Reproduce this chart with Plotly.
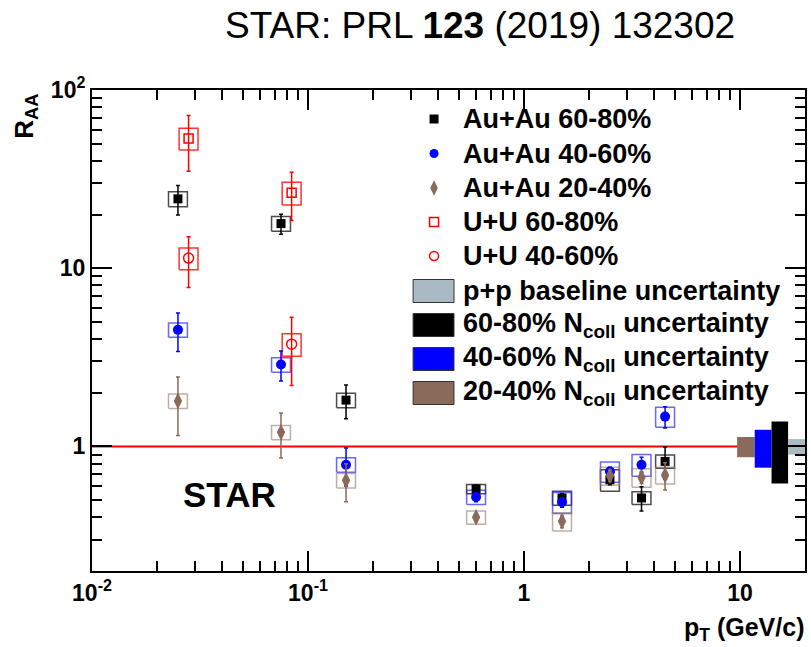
import plotly.graph_objects as go

# ---------------- data ----------------
pt = [0.025, 0.075, 0.15, 0.6, 1.5, 2.5, 3.5, 4.5]
pt_uu = [0.028, 0.084]

auau_6080 = [24.5, 17.8, 1.82, 0.577, 0.514, 0.65, 0.514, 0.824]
auau_6080_stat = [4.6, 2.3, 0.39, 0.03, 0.03, 0.04, 0.08, 0.17]
auau_6080_sys = [2.35, 1.7, 0.17, 0.034, 0.047, 0.09, 0.042, 0.07]

auau_4060 = [4.51, 2.88, 0.79, 0.52, 0.486, 0.724, 0.79, 1.47]
auau_4060_stat = [1.1, 0.55, 0.19, 0.03, 0.03, 0.04, 0.08, 0.2]
auau_4060_sys = [0.41, 0.27, 0.073, 0.047, 0.065, 0.095, 0.11, 0.19]

auau_2040 = [1.80, 1.20, 0.645, 0.40, 0.38, 0.685, 0.67, 0.69]
auau_2040_stat = [0.65, 0.34, 0.155, 0.02, 0.03, 0.05, 0.05, 0.12]
auau_2040_sys = [0.17, 0.11, 0.06, 0.034, 0.045, 0.08, 0.08, 0.075]

uu_6080 = [53.5, 26.5]
uu_6080_stat = [18.5, 8.0]
uu_6080_sys = [7.5, 3.9]

uu_4060 = [11.4, 3.75]
uu_4060_stat = [3.6, 1.55]
uu_4060_sys = [1.6, 0.54]

# global normalisation uncertainties drawn at R_AA = 1
glob_names = ["20-40%", "40-60%", "60-80%", "p+p"]
glob_unc = [0.13, 0.24, 0.38, 0.10]
glob_xlo = [9.7, 11.7, 14.0, 16.7]
glob_xhi = [11.7, 14.0, 16.7, 20.5]

x_ticks = [0.01, 0.1, 1, 10]
x_ticktext = ["10<sup>-2</sup>", "10<sup>-1</sup>", "1", "10"]
y_ticks = [1, 10, 100]
y_ticktext = ["1", "10", "10<sup>2</sup>"]

legend_markers = ["Au+Au 60-80%", "Au+Au 40-60%", "Au+Au 20-40%", "U+U 60-80%", "U+U 40-60%"]
legend_boxes = ["p+p baseline uncertainty", "60-80% N<sub>coll</sub> uncertainty",
                "40-60% N<sub>coll</sub> uncertainty", "20-40% N<sub>coll</sub> uncertainty"]

# ---------------- styles ----------------
FONT = "Liberation Sans, Arial, sans-serif"
W, H = 811, 647
L, R, T, B = 92, 4, 90, 76
BOXW = 1.106  # multiplicative half-width of systematic boxes (log axis)

BLACK = "#000000"
BLUE = "#0000FF"
BROWN = "#8A6A5A"
RED = "#FF0000"
GRAY = "#AABAC4"


def px(x):
    return (x - L) / (W - L - R)


def py(y):
    return (H - B - y) / (H - T - B)


def sys_boxes(xs, ys, es):
    bx, by = [], []
    for x, y, e in zip(xs, ys, es):
        x0, x1 = x / BOXW, x * BOXW
        bx += [x0, x1, x1, x0, x0, None]
        by += [y - e, y - e, y + e, y + e, y - e, None]
    return bx, by


fig = go.Figure()

# reference line at 1
fig.add_trace(go.Scatter(x=[0.01, 10], y=[1, 1], mode="lines",
                         line=dict(color=RED, width=2), showlegend=False, hoverinfo="skip"))

series = [
    (pt, auau_6080, auau_6080_stat, auau_6080_sys, BLACK, "rgba(0,0,0,0.7)", "square", 9, BLACK, 0),
    (pt, auau_4060, auau_4060_stat, auau_4060_sys, BLUE, "rgba(40,40,255,0.7)", "circle", 10, BLUE, 0),
    (pt, auau_2040, auau_2040_stat, auau_2040_sys, BROWN, "rgba(150,120,105,0.6)", "diamond-tall", 12, BROWN, 0),
    (pt_uu, uu_6080, uu_6080_stat, uu_6080_sys, RED, "rgba(255,0,0,0.8)", "square-open", 9, RED, 1.5),
    (pt_uu, uu_4060, uu_4060_stat, uu_4060_sys, RED, "rgba(255,0,0,0.8)", "circle-open", 10, RED, 1.5),
]

for xs, ys, st, sy, col, bcol, sym, size, mcol, lw in series:
    bx, by = sys_boxes(xs, ys, sy)
    fig.add_trace(go.Scatter(x=bx, y=by, mode="lines", line=dict(color=bcol, width=1.5),
                             showlegend=False, hoverinfo="skip"))

for xs, ys, st, sy, col, bcol, sym, size, mcol, lw in series:
    fig.add_trace(go.Scatter(
        x=xs, y=ys, mode="markers",
        marker=dict(symbol=sym, size=size, color=mcol, line=dict(color=mcol, width=lw)),
        error_y=dict(type="data", array=st, visible=True, color=col, thickness=1.5, width=2),
        showlegend=False))

# global uncertainty boxes
glob_cols = [BROWN, BLUE, BLACK, GRAY]
for name, u, x0, x1, c in zip(glob_names, glob_unc, glob_xlo, glob_xhi, glob_cols):
    fig.add_trace(go.Scatter(x=[x0, x1, x1, x0, x0], y=[1 - u, 1 - u, 1 + u, 1 + u, 1 - u],
                             mode="lines", fill="toself", fillcolor=c, line=dict(color=c, width=0),
                             showlegend=False, hoverinfo="skip", name=name))

# ---------------- legend (manual) ----------------
leg_marker_y = [119, 153.5, 188, 222, 256]
leg_box_y = [291, 325, 359, 393]
leg_syms = [("square", 9, BLACK, 0), ("circle", 9, BLUE, 0), ("diamond-tall", 11, BROWN, 0),
            ("square-open", 9, RED, 1.5), ("circle-open", 9, RED, 1.5)]
for (sym, size, col, lw), yy in zip(leg_syms, leg_marker_y):
    fig.add_trace(go.Scatter(x=[px(435)], y=[py(yy)], xaxis="x2", yaxis="y2", mode="markers",
                             marker=dict(symbol=sym, size=size, color=col, line=dict(color=col, width=lw)),
                             showlegend=False, hoverinfo="skip"))

annotations = []
for txt, yy in zip(legend_markers + legend_boxes, leg_marker_y + leg_box_y):
    annotations.append(dict(text="<b>%s</b>" % txt, x=px(462), y=py(yy), xref="paper", yref="paper",
                            xanchor="left", yanchor="middle", showarrow=False,
                            font=dict(family=FONT, size=27, color="black")))

shapes = []
box_cols = [GRAY, BLACK, BLUE, BROWN]
for c, yy in zip(box_cols, leg_box_y):
    shapes.append(dict(type="rect", xref="paper", yref="paper", x0=px(414), x1=px(455),
                       y0=py(yy + 11.5), y1=py(yy - 11.5), fillcolor=c,
                       line=dict(color="#333333", width=1)))

# titles / labels
annotations.append(dict(text="STAR: PRL <b>123</b> (2019) 132302", x=px(481), y=py(25),
                        xref="paper", yref="paper", xanchor="center", yanchor="middle",
                        showarrow=False, font=dict(family=FONT, size=37, color="black")))
annotations.append(dict(text="<b>STAR</b>", x=px(230), y=py(494), xref="paper", yref="paper",
                        xanchor="center", yanchor="middle", showarrow=False,
                        font=dict(family=FONT, size=35, color="black")))
annotations.append(dict(text="<b>R<sub>AA</sub></b>", x=px(25), y=py(92), xref="paper", yref="paper",
                        xanchor="center", yanchor="top", textangle=-90, showarrow=False,
                        font=dict(family=FONT, size=26, color="black")))
annotations.append(dict(text="<b>p<sub>T</sub> (GeV/c)</b>", x=px(808), y=py(629), xref="paper",
                        yref="paper", xanchor="right", yanchor="middle", showarrow=False,
                        font=dict(family=FONT, size=25, color="black")))

minor_x = [k * 10 ** e for e in (-2, -1, 0) for k in range(2, 10)] + [20]
minor_y = [k * 10 ** e for e in (-1, 0, 1) for k in range(2, 10) if k * 10 ** e >= 0.2]

axis_common = dict(showline=True, linecolor="black", linewidth=2, mirror="allticks",
                   ticks="inside", ticklen=20, tickwidth=1.5, tickcolor="black",
                   showgrid=False, zeroline=False,
                   tickfont=dict(family=FONT, size=23, color="black", weight="bold"))

fig.update_layout(
    width=W, height=H,
    margin=dict(l=L, r=R, t=T, b=B),
    paper_bgcolor="white", plot_bgcolor="white",
    showlegend=False,
    xaxis=dict(type="log", range=[-2, 1.30103], tickmode="array", tickvals=x_ticks,
               ticktext=x_ticktext,
               minor=dict(ticks="inside", ticklen=10, tickwidth=1.5, tickcolor="black",
                          tickmode="array", tickvals=minor_x, showgrid=False),
               **axis_common),
    yaxis=dict(type="log", range=[-0.69897, 2], tickmode="array", tickvals=y_ticks,
               ticktext=y_ticktext,
               minor=dict(ticks="inside", ticklen=10, tickwidth=1.5, tickcolor="black",
                          tickmode="array", tickvals=minor_y, showgrid=False),
               **axis_common),
    xaxis2=dict(overlaying="x", range=[0, 1], visible=False, fixedrange=True),
    yaxis2=dict(overlaying="y", range=[0, 1], visible=False, fixedrange=True),
    annotations=annotations,
    shapes=shapes,
)

fig.write_html("out.html")
